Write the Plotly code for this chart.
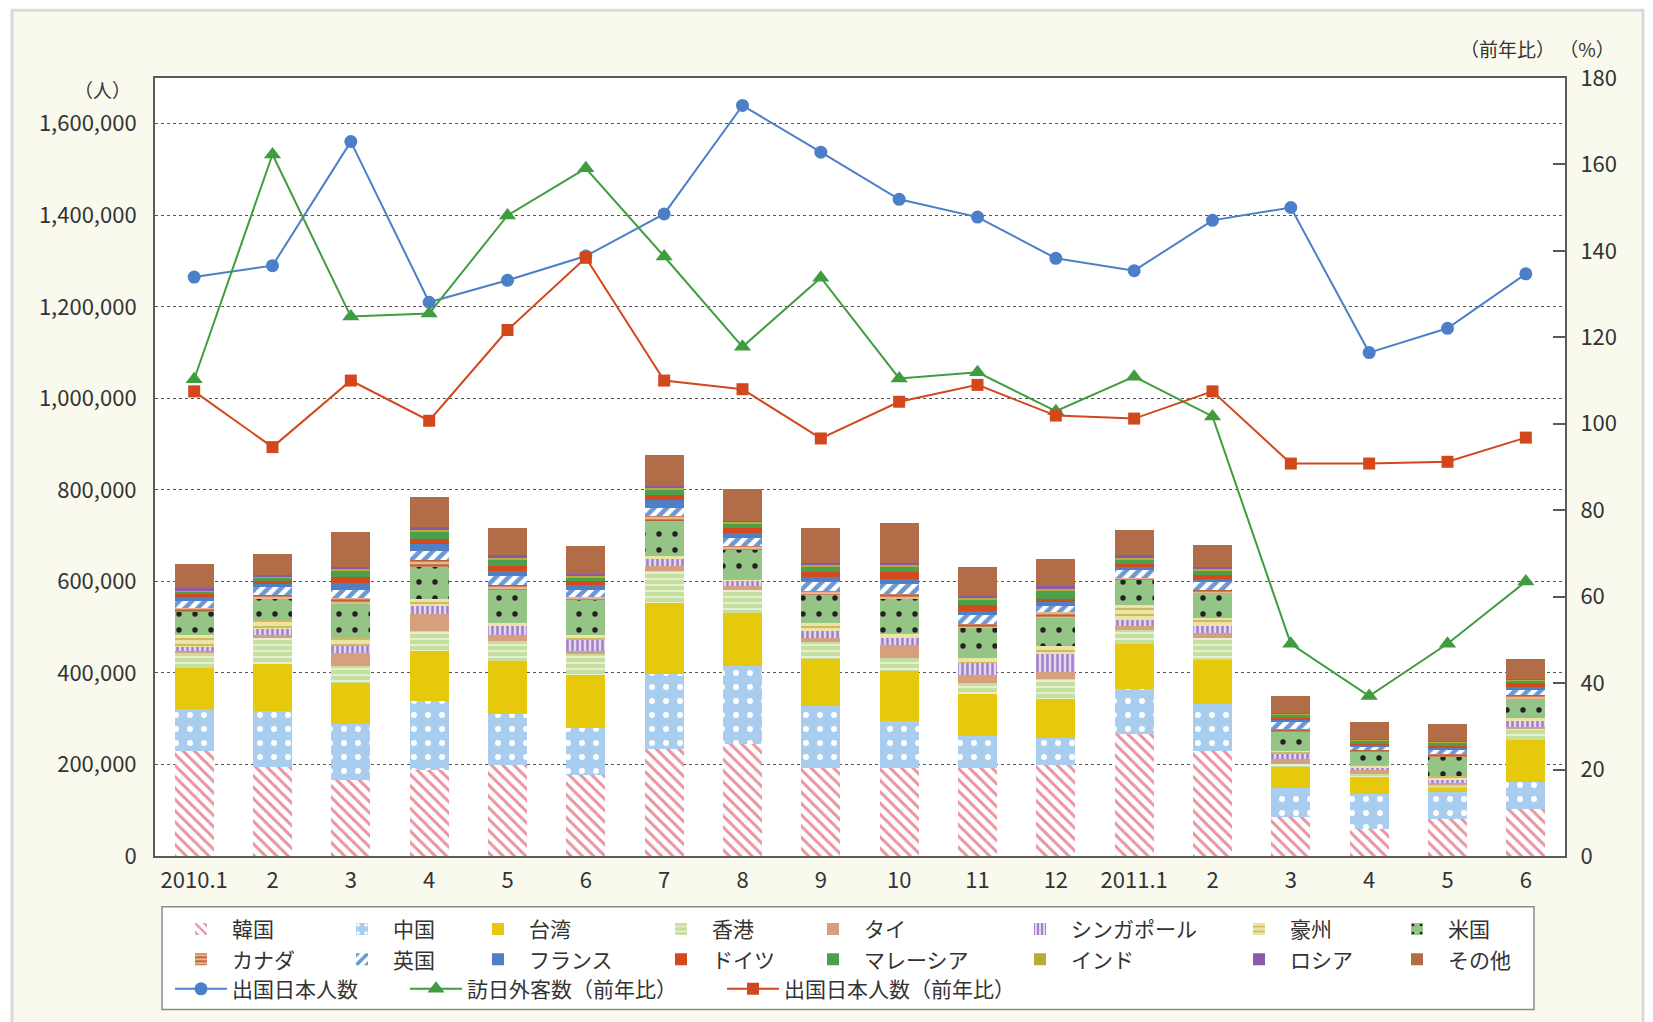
import plotly.graph_objects as go

# ---------------- data ----------------
months = ["2010.1", "2010.2", "2010.3", "2010.4", "2010.5", "2010.6", "2010.7", "2010.8",
          "2010.9", "2010.10", "2010.11", "2010.12", "2011.1", "2011.2", "2011.3", "2011.4",
          "2011.5", "2011.6"]
tick_labels = ["2010.1", "2", "3", "4", "5", "6", "7", "8", "9", "10", "11", "12",
               "2011.1", "2", "3", "4", "5", "6"]

# visitor arrivals by country (thousand persons)
korea     = [229, 194, 167, 188, 198, 176, 233, 244, 193, 193, 193, 198, 267, 229, 85, 60, 80, 102]
china     = [92, 122, 122, 151, 113, 104, 165, 171, 135, 102, 69, 60, 98, 104, 63, 76, 60, 60]
taiwan    = [90, 103, 88, 109, 116, 115, 155, 116, 103, 109, 91, 84, 98, 96, 47, 36, 9, 91]
hongkong  = [33, 57, 38, 44, 42, 47, 69, 51, 36, 29, 25, 44, 31, 47, 7, 7, 7, 24]
thailand  = [5, 7, 29, 36, 13, 7, 11, 7, 9, 29, 18, 16, 9, 11, 9, 9, 4, 5]
singapore = [7, 13, 15, 18, 20, 24, 15, 11, 16, 15, 25, 39, 12, 16, 12, 4, 7, 13]
australia = [26, 20, 18, 15, 7, 11, 7, 6, 17, 11, 11, 18, 33, 17, 7, 7, 7, 7]
usa       = [51, 45, 74, 71, 73, 76, 78, 63, 62, 73, 66, 62, 55, 55, 42, 29, 44, 40]
canada    = [10, 9, 13, 15, 11, 7, 11, 9, 9, 11, 9, 13, 5, 7, 6, 4, 4, 9]
uk        = [15, 18, 18, 20, 18, 15, 17, 17, 19, 22, 20, 12, 17, 17, 15, 7, 9, 12]
france    = [7, 6, 15, 15, 11, 11, 16, 11, 10, 12, 9, 9, 7, 7, 5, 4, 6, 7]
germany   = [7, 7, 12, 11, 11, 7, 12, 11, 12, 15, 13, 7, 7, 9, 4, 2, 4, 7]
malaysia  = [6, 7, 13, 15, 15, 9, 12, 9, 12, 11, 11, 17, 9, 9, 7, 7, 7, 7]
india     = [3, 3, 5, 5, 4, 4, 4, 4, 4, 4, 5, 5, 4, 4, 1.5, 1.5, 1.5, 2]
russia    = [4, 3, 5, 6, 5, 4, 4, 3, 4, 4, 4, 6, 5, 4, 2, 2, 2, 1.5]
others    = [53, 47, 75, 65, 60, 60, 67, 68, 76, 88, 63, 58, 55, 48, 38, 37, 37, 42]

# outbound Japanese (persons)
outbound = [1265000, 1290000, 1561000, 1210000, 1258000, 1311000, 1403000, 1640000, 1538000,
            1435000, 1396000, 1306000, 1279000, 1389000, 1417000, 1100000, 1153000, 1272000]
# year-on-year (%)
visitors_yoy = [110.3, 162.3, 124.8, 125.5, 148.2, 159.1, 138.7, 117.8, 133.8, 110.5, 111.9,
                102.9, 110.9, 101.7, 49.1, 37.0, 49.1, 63.5]
outbound_yoy = [107.5, 94.6, 110.0, 100.7, 121.7, 138.4, 110.0, 108.0, 96.6, 105.1, 109.0,
                101.9, 101.2, 107.5, 90.8, 90.8, 91.2, 96.8]

FONT = "Noto Sans CJK JP"
TXT = "#333333"

# (name, values, base colour, pattern shape, pattern fg, pattern size, solidity)
series = [
    ("韓国", korea, "#ffffff", "\\", "#e8939f", 8, 0.36),
    ("中国", china, "#a9cdef", ".", "#ffffff", 14, 0.14),
    ("台湾", taiwan, "#e6c80c", "", None, None, None),
    ("香港", hongkong, "#c6de9e", "-", "#e9f2d6", 6, 0.3),
    ("タイ", thailand, "#d6a07e", "", None, None, None),
    ("シンガポール", singapore, "#e3d7f1", "|", "#a080c8", 5, 0.5),
    ("豪州", australia, "#ede5a6", "-", "#cbbb62", 6, 0.35),
    ("米国", usa, "#94c486", ".", "#222222", 16, 0.09),
    ("カナダ", canada, "#ebb490", "-", "#b5643a", 5, 0.45),
    ("英国", uk, "#ffffff", "/", "#6a98d6", 9, 0.5),
    ("フランス", france, "#4f80c4", "", None, None, None),
    ("ドイツ", germany, "#d24a1e", "", None, None, None),
    ("マレーシア", malaysia, "#4da04a", "", None, None, None),
    ("インド", india, "#b5aa3a", "", None, None, None),
    ("ロシア", russia, "#8b5aa6", "", None, None, None),
    ("その他", others, "#b06d48", "", None, None, None),
]

# ---------------- geometry (screen pixels; page body has an 8px margin) ----------------
OFF = 8
FW, FH = 1653 - OFF, 1022 - OFF
L, R, T, B = 155 - OFF, 1565 - OFF, 78 - OFF, 858 - OFF
W, H = R - L, B - T


def px(x):
    return (x - OFF - L) / W


def py(y):
    return (B - (y - OFF)) / H


# legend column anchors (screen x of each swatch)
bar_cols = [172, 333, 469, 652, 804, 1011, 1230, 1388]
line_cols = [172, 407, 724]
LEG_FONT = 21

fig = go.Figure()

for i, (name, vals, col, shape, fg, size, sol) in enumerate(series):
    marker = dict(color=col, line=dict(width=0))
    if shape:
        marker["pattern"] = dict(shape=shape, fgcolor=fg, bgcolor=col, size=size,
                                 solidity=sol, fillmode="replace")
    lg = "legend" if i % 8 == 0 else "legend%d" % (i % 8 + 1)
    fig.add_trace(go.Bar(
        x=months, y=[v * 1000 for v in vals], name=name, marker=marker,
        yaxis="y", legend=lg,
    ))

fig.add_trace(go.Scatter(
    x=months, y=outbound, name="出国日本人数", mode="lines+markers",
    line=dict(color="#4b7fc8", width=2),
    marker=dict(symbol="circle", size=13, color="#4b7fc8"),
    yaxis="y", legend="legend9",
))
fig.add_trace(go.Scatter(
    x=months, y=visitors_yoy, name="訪日外客数（前年比）", mode="lines+markers",
    line=dict(color="#3f9d3f", width=2),
    marker=dict(symbol="triangle-up", size=15, color="#3f9d3f"),
    yaxis="y2", legend="legend10",
))
fig.add_trace(go.Scatter(
    x=months, y=outbound_yoy, name="出国日本人数（前年比）", mode="lines+markers",
    line=dict(color="#d2481c", width=2),
    marker=dict(symbol="square", size=12, color="#d2481c"),
    yaxis="y2", legend="legend11",
))

legends = {}
for k, cx in enumerate(bar_cols):
    key = "legend" if k == 0 else "legend%d" % (k + 1)
    legends[key] = dict(
        orientation="v", x=px(cx - 2), y=py(911), xanchor="left", yanchor="top",
        bgcolor="rgba(0,0,0,0)", font=dict(size=LEG_FONT, color=TXT, family=FONT),
        traceorder="normal", itemwidth=52, tracegroupgap=0,
    )
for k, cx in enumerate(line_cols):
    key = "legend%d" % (k + 9)
    legends[key] = dict(
        orientation="v", x=px(cx - 2), y=py(971), xanchor="left", yanchor="top",
        bgcolor="rgba(0,0,0,0)", font=dict(size=LEG_FONT, color=TXT, family=FONT),
        traceorder="normal", itemwidth=52, tracegroupgap=0,
    )

fig.update_layout(
    width=FW, height=FH,
    margin=dict(l=L, r=FW - R, t=T, b=FH - B),
    paper_bgcolor="#ffffff",
    plot_bgcolor="#ffffff",
    barmode="stack",
    bargap=0.5,
    font=dict(family=FONT, size=20, color=TXT),
    showlegend=True,
    xaxis=dict(
        type="category", tickvals=months, ticktext=tick_labels,
        range=[-0.5, len(months) - 0.5],
        showline=True, linecolor="#5a5a5a", linewidth=2, mirror=True,
        ticks="", showgrid=False, tickfont=dict(size=22, color=TXT),
        ticklabelstandoff=4,
    ),
    yaxis=dict(
        range=[0, 1700000], tickvals=[0, 200000, 400000, 600000, 800000, 1000000,
                                      1200000, 1400000, 1600000],
        tickformat=",d", showline=True, linecolor="#5a5a5a", linewidth=2,
        showgrid=True, gridcolor="#555555", gridwidth=1.3, griddash="3px,3px",
        zeroline=False, ticks="", tickfont=dict(size=22, color=TXT),
        ticklabelstandoff=12,
    ),
    yaxis2=dict(
        range=[0, 180], dtick=20, overlaying="y", side="right",
        showline=True, linecolor="#5a5a5a", linewidth=2,
        showgrid=False, zeroline=False, ticks="inside", ticklen=12,
        tickcolor="#5a5a5a", tickwidth=1.5, tickfont=dict(size=22, color=TXT),
        ticklabelstandoff=9,
    ),
    shapes=[
        dict(type="rect", xref="paper", yref="paper", layer="below",
             x0=px(12), x1=px(1643), y0=py(1045), y1=py(10),
             fillcolor="#f9f9ee", line=dict(color="#dadada", width=3)),
        dict(type="rect", xref="paper", yref="paper", layer="below",
             x0=0, x1=1, y0=0, y1=1, fillcolor="#ffffff", line=dict(width=0)),
        dict(type="rect", xref="paper", yref="paper", layer="below",
             x0=px(162), x1=px(1534), y0=py(1012), y1=py(909),
             fillcolor="#ffffff", line=dict(color="#8a8a8a", width=1.5)),
    ],
    annotations=[
        dict(text="（人）", xref="paper", yref="paper", x=px(102), y=py(90),
             xanchor="center", yanchor="middle", showarrow=False,
             font=dict(size=19, color=TXT)),
        dict(text="（前年比） （%）", xref="paper", yref="paper", x=px(1617), y=py(48),
             xanchor="right", yanchor="middle", showarrow=False,
             font=dict(size=19, color=TXT)),
    ],
    **legends,
)

fig.write_html("out.html")
